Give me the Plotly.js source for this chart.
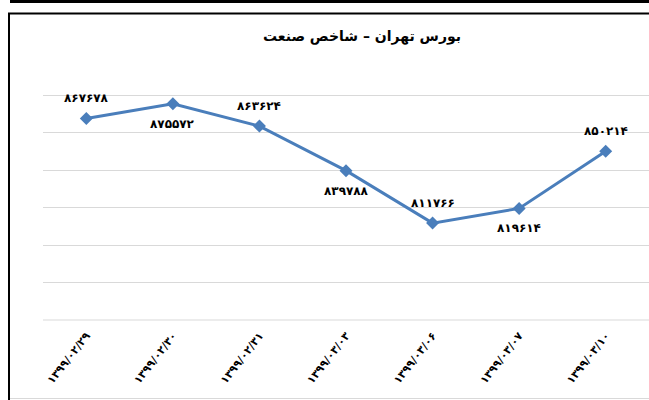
<!DOCTYPE html>
<html>
<head>
<meta charset="utf-8">
<script src="https://cdn.plot.ly/plotly-3.0.1.min.js"></script>
<style>html,body{margin:0;padding:0;background:#fff;}#chart{width:649px;height:400px;}</style>
</head>
<body>
<div id="chart"></div>
<script>
const categories = ["1399/02/29", "1399/02/30", "1399/02/31", "1399/03/03", "1399/03/06", "1399/03/07", "1399/03/10"];
const values = [867678, 875572, 863624, 839788, 811766, 819614, 850214];
const labelAbove = [true, false, true, false, true, false, true];
const titleText = "بورس تهران – شاخص صنعت";

const fa = s => String(s).replace(/[0-9]/g, d => "۰۱۲۳۴۵۶۷۸۹"[+d]);
const tickText = categories.map(fa);
const labelText = values.map(fa);

const L = 43, R = 649, T = 58, B = 320;
const px = x => (x - L) / (R - L);
const py = y => (B - y) / (B - T);
const font = "DejaVu Sans, sans-serif";

const trace = {
  x: categories,
  y: values,
  type: "scatter",
  mode: "lines+markers",
  line: {color: "#4a7ebb", width: 3},
  marker: {symbol: "diamond", size: 10, color: "#4a7ebb"},
  cliponaxis: false,
  hoverinfo: "skip"
};

const annotations = categories.map((c, i) => ({
  x: c, y: values[i], xref: "x", yref: "y",
  text: labelText[i], showarrow: false,
  yshift: labelAbove[i] ? 20 : -20,
  xanchor: "center", yanchor: "middle",
  font: {family: font, size: 12, color: "#000", weight: "bold"}
}));

const layout = {
  width: 649, height: 400,
  margin: {l: L, r: 649 - R, t: T, b: 400 - B},
  paper_bgcolor: "#fff", plot_bgcolor: "#fff",
  showlegend: false,
  title: {text: titleText, x: px(362), xref: "paper", y: 1 - 36 / 400, yanchor: "middle",
          font: {family: font, size: 14, color: "#000", weight: "bold"}},
  xaxis: {
    type: "category",
    tickmode: "array", tickvals: categories, ticktext: tickText,
    tickangle: -52,
    ticklabelstandoff: 6,
    tickfont: {family: font, size: 11, color: "#000", weight: "bold"},
    showgrid: false, zeroline: false, showline: false, ticks: "",
    range: [-0.5, categories.length - 0.5], fixedrange: true
  },
  yaxis: {
    range: [760000, 900000], dtick: 20000,
    showticklabels: false, ticks: "",
    showgrid: true, gridcolor: "#d9d9d9", gridwidth: 1,
    zeroline: false, showline: false, fixedrange: true
  },
  annotations: annotations,
  shapes: [
    {type: "line", xref: "paper", yref: "paper", x0: px(10), x1: px(649), y0: py(1.5), y1: py(1.5), line: {color: "#000", width: 3}},
    {type: "line", xref: "paper", yref: "paper", x0: px(8), x1: px(649), y0: py(13.5), y1: py(13.5), line: {color: "#000", width: 2}},
    {type: "line", xref: "paper", yref: "paper", x0: px(9), x1: px(9), y0: py(13), y1: py(400), line: {color: "#000", width: 2}},
    {type: "line", xref: "paper", yref: "paper", x0: px(10), x1: px(649), y0: py(398.5), y1: py(398.5), line: {color: "#d9d9d9", width: 1}},
    {type: "line", xref: "paper", yref: "paper", x0: 0, x1: 1, y0: 0, y1: 0, line: {color: "#d9d9d9", width: 1}}
  ]
};

Plotly.newPlot("chart", [trace], layout, {displayModeBar: false, staticPlot: true});
</script>
</body>
</html>
